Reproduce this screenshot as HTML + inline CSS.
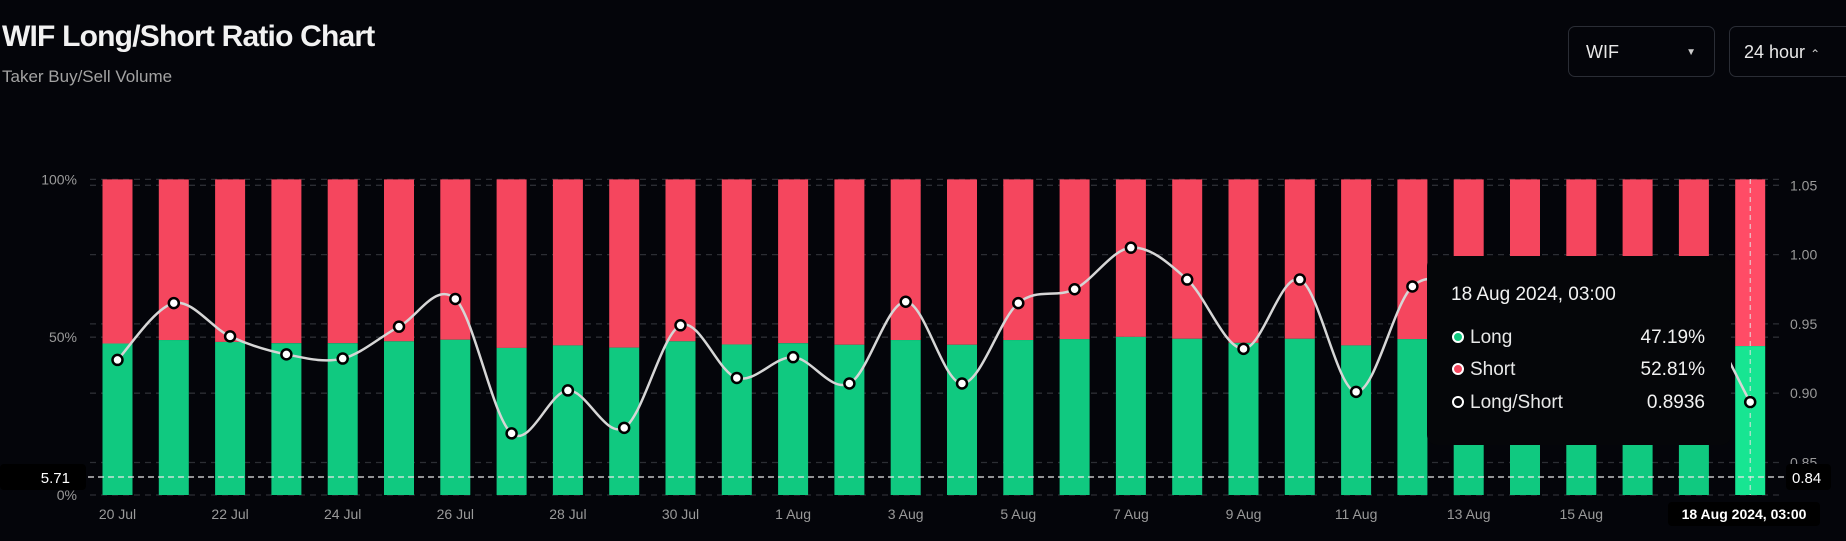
<!DOCTYPE html>
<html><head><meta charset="utf-8">
<style>
html,body{margin:0;padding:0;background:#04050a;width:1846px;height:541px;overflow:hidden;font-family:"Liberation Sans",sans-serif;}
#title{position:absolute;left:2px;top:20px;font-size:30px;font-weight:bold;color:#f2f2f2;letter-spacing:-0.8px;}
#sub{position:absolute;left:2px;top:67px;font-size:17px;color:#a3a3a3;}
.sel{position:absolute;top:26px;height:51px;border:1px solid #2a2d35;border-radius:7px;color:#e8e8e8;font-size:18px;line-height:51px;box-sizing:border-box;}
svg{position:absolute;left:0;top:0;}
</style></head><body>
<div id="title">WIF Long/Short Ratio Chart</div>
<div id="sub">Taker Buy/Sell Volume</div>
<div class="sel" style="left:1568px;width:147px;padding-left:17px">WIF<span style="position:absolute;right:18px;top:0;font-size:10px;color:#ccc">▼</span></div>
<div class="sel" style="left:1729px;width:130px;padding-left:14px">24 hour <span style="font-size:12px;color:#ccc">⌃</span></div>
<svg id="chart" width="1846" height="541"></svg>
<script>
const categories=["20 Jul","21 Jul","22 Jul","23 Jul","24 Jul","25 Jul","26 Jul","27 Jul","28 Jul","29 Jul","30 Jul","31 Jul","1 Aug","2 Aug","3 Aug","4 Aug","5 Aug","6 Aug","7 Aug","8 Aug","9 Aug","10 Aug","11 Aug","12 Aug","13 Aug","14 Aug","15 Aug","16 Aug","17 Aug","18 Aug 2024, 03:00"];
const ratioValues=[0.924,0.965,0.941,0.928,0.925,0.948,0.968,0.871,0.902,0.875,0.949,0.911,0.926,0.907,0.966,0.907,0.965,0.975,1.005,0.982,0.932,0.982,0.901,0.977,0.975,0.96,0.965,0.955,0.962,0.8936];
const longValues=[48.0,49.1,48.5,48.1,48.1,48.7,49.2,46.6,47.4,46.7,48.7,47.7,48.1,47.6,49.1,47.6,49.1,49.4,50.1,49.5,48.2,49.5,47.4,49.4,49.4,49.0,49.1,48.8,49.0,47.19];
const leftTicks=[0,50,100];
const rightTicks=[0.85,0.90,0.95,1.00,1.05];
const NS="http://www.w3.org/2000/svg";
const svg=document.getElementById('chart');
function mk(t,a,p){const e=document.createElementNS(NS,t);for(const k in a)e.setAttribute(k,a[k]);(p||svg).appendChild(e);return e;}
const x0=117.5,step=56.3,bw=30;
const xs=i=>x0+i*step;
const yL=v=>495-(v/100)*315.6;
const yR=v=>185.3+(1.05-v)/0.05*69.3;
leftTicks.forEach(t=>{const g=mk('line',{x1:90,x2:1780,y1:yL(t),y2:yL(t),stroke:'#2c2e34','stroke-dasharray':'6,5','stroke-width':1.3});

const tx=mk('text',{x:77,y:yL(t)+5,'text-anchor':'end',fill:'#9a9a9a','font-size':14});tx.textContent=t+'%';
});
rightTicks.forEach(t=>{const g=mk('line',{x1:90,x2:1780,y1:yR(t),y2:yR(t),stroke:'#2c2e34','stroke-dasharray':'6,5','stroke-width':1.3});

const tx=mk('text',{x:1790,y:yR(t)+5,fill:'#9a9a9a','font-size':14});tx.textContent=t.toFixed(2);
});
categories.forEach((c,i)=>{const last=i===categories.length-1;const x=xs(i)-bw/2;const yt=yL(longValues[i]);
const r=mk('rect',{x:x,y:yL(100),width:bw,height:yt-yL(100),fill:last?'#ff4c66':'#f5465e'});

const g=mk('rect',{x:x,y:yt,width:bw,height:yL(0)-yt,fill:last?'#17e592':'#10c980'});

if(i%2===0&&!last){const t=mk('text',{x:xs(i),y:519,'text-anchor':'middle',fill:'#9a9a9a','font-size':14});t.textContent=c;
}});
const hl=mk('line',{x1:xs(29),x2:xs(29),y1:179,y2:495,stroke:'#e0e0e0','stroke-dasharray':'5,4','stroke-width':1});

const pts=ratioValues.map((v,i)=>[xs(i),yR(v)]);
let d='M'+pts[0][0]+','+pts[0][1];
for(let i=0;i<pts.length-1;i++){const p0=pts[i-1]||pts[i],p1=pts[i],p2=pts[i+1],p3=pts[i+2]||p2;
d+=` C${p1[0]+(p2[0]-p0[0])/6},${p1[1]+(p2[1]-p0[1])/6} ${p2[0]-(p3[0]-p1[0])/6},${p2[1]-(p3[1]-p1[1])/6} ${p2[0]},${p2[1]}`;}
const ln=mk('path',{d:d,fill:'none',stroke:'#d6d6d6','stroke-width':2.5});

pts.forEach(p=>{const c=mk('circle',{cx:p[0],cy:p[1],r:5,fill:'#fff',stroke:'#000','stroke-width':2.5});
});
const rl=mk('line',{x1:88,x2:1786,y1:477,y2:477,stroke:'#e8e8e8','stroke-dasharray':'6,4','stroke-width':1.3});

const tg=mk('g',{});
mk('rect',{x:1427,y:256,width:304,height:189,rx:10,fill:'#050609'},tg);
const tt=mk('text',{x:1451,y:300,fill:'#f2f2f2','font-size':19},tg);tt.textContent='18 Aug 2024, 03:00';
[['Long','47.19%','#10c980',343],['Short','52.81%','#f5465e',375],['Long/Short','0.8936','#050609',408]].forEach(r=>{
mk('circle',{cx:1458,cy:r[3]-6,r:5,fill:r[2],stroke:'#fff','stroke-width':2},tg);
const a=mk('text',{x:1470,y:r[3],fill:'#e8e8e8','font-size':19},tg);a.textContent=r[0];
const b=mk('text',{x:1705,y:r[3],fill:'#f2f2f2','font-size':19,'text-anchor':'end'},tg);b.textContent=r[1];});
const b1=mk('rect',{x:0,y:464,width:86,height:26,rx:4,fill:'#000'});
const t1=mk('text',{x:70,y:483,'text-anchor':'end',fill:'#fff','font-size':15});t1.textContent='5.71';
const b2=mk('rect',{x:1786,y:464,width:45,height:26,rx:4,fill:'#000'});
const t2=mk('text',{x:1792,y:483,fill:'#fff','font-size':15});t2.textContent='0.84';
const xb=mk('rect',{x:1668,y:502,width:152,height:24,rx:4,fill:'#000'});
const xt=mk('text',{x:1744,y:519,'text-anchor':'middle',fill:'#fff','font-size':14,'font-weight':'bold'});xt.textContent=categories[29];

</script>
</body></html>
